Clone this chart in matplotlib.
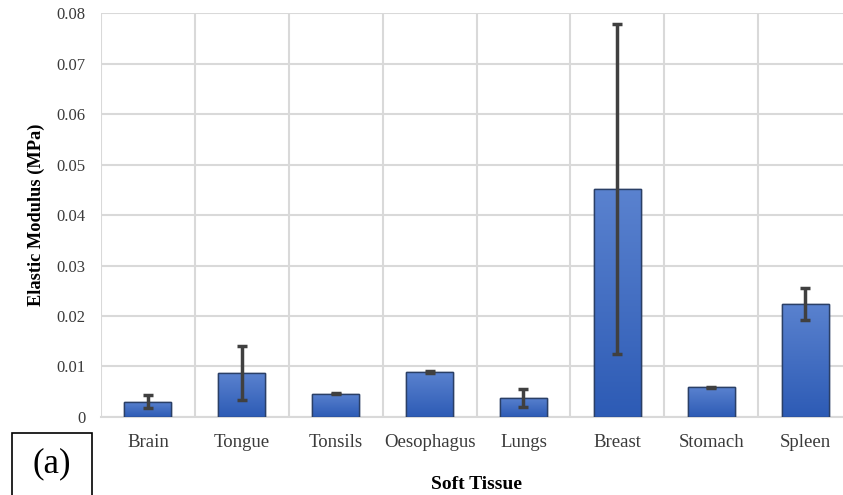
import numpy as np
import matplotlib
matplotlib.use('Agg')
import matplotlib.pyplot as plt
from matplotlib.patches import Rectangle
from matplotlib.colors import LinearSegmentedColormap

tissues = ['Brain', 'Tongue', 'Tonsils', 'Oesophagus', 'Lungs', 'Breast', 'Stomach', 'Spleen']
modulus = [0.0030, 0.0087, 0.0046, 0.0089, 0.0038, 0.0451, 0.0059, 0.0224]
errors = [0.0013, 0.0053, 0.0001, 0.0002, 0.0018, 0.0327, 0.0001, 0.0032]
yticks = [0, 0.01, 0.02, 0.03, 0.04, 0.05, 0.06, 0.07, 0.08]
ytick_labels = ['0', '0.01', '0.02', '0.03', '0.04', '0.05', '0.06', '0.07', '0.08']

plt.rcParams['font.family'] = ['Liberation Serif', 'DejaVu Serif']

fig = plt.figure(figsize=(8.43, 4.95), dpi=100)
ax = fig.add_axes([0.1198, 0.1576, 0.891, 0.816])

x = np.arange(len(tissues))
bars = ax.bar(x, modulus, width=0.5, color='#3F6CC4', edgecolor='#2A3F66',
              linewidth=1.0, zorder=3)

# vertical gradient fill like the Office style bars
grad_cmap = LinearSegmentedColormap.from_list('bar', ['#2D5BB5', '#5A82CF'])
grad = np.linspace(0, 1, 256).reshape(-1, 1)
for b in bars:
    im = ax.imshow(grad, cmap=grad_cmap, aspect='auto', origin='lower',
                   extent=[b.get_x(), b.get_x() + b.get_width(), 0, b.get_height()],
                   zorder=3.1)
    im.set_clip_path(b)
    edge = Rectangle((b.get_x(), 0), b.get_width(), b.get_height(), fill=False,
                     edgecolor='#2A3F66', linewidth=1.0, zorder=3.2)
    ax.add_patch(edge)

ax.errorbar(x, modulus, yerr=errors, fmt='none', ecolor='#404040',
            elinewidth=2.5, capsize=3.5, capthick=2.5, zorder=4)

ax.set_xlim(-0.5, 7.5)
ax.set_ylim(0, 0.08)
ax.set_yticks(yticks)
ax.set_yticklabels(ytick_labels)
ax.set_xticks(x)
ax.set_xticklabels(tissues)
ax.set_xticks(np.arange(-0.5, 8, 1), minor=True)

ax.grid(axis='y', which='major', color='#D9D9D9', linewidth=1.5, zorder=0)
ax.grid(axis='x', which='minor', color='#D9D9D9', linewidth=1.5, zorder=0)
ax.set_axisbelow(True)

for s in ['top', 'right', 'left']:
    ax.spines[s].set_visible(False)
ax.spines['bottom'].set_color('#D9D9D9')
ax.spines['bottom'].set_linewidth(1.5)

ax.tick_params(axis='both', which='both', length=0, colors='#3A3A3A')
ax.tick_params(axis='x', labelsize=13.5, pad=12)
ax.tick_params(axis='y', labelsize=12, pad=11)

ax.set_ylabel('Elastic Modulus (MPa)', fontsize=13.2, fontweight='bold', labelpad=8)
ax.set_xlabel('Soft Tissue', fontsize=14, fontweight='bold', labelpad=18)

# "(a)" panel label box
fig.patches.append(Rectangle((12 / 843, -0.05), 80 / 843, 0.05 + 62 / 495,
                             transform=fig.transFigure, fill=False,
                             edgecolor='black', linewidth=1.2))
fig.text(52 / 843, 31 / 495, '(a)', fontsize=25, ha='center', va='center')

fig.savefig('out.png', dpi=100)
